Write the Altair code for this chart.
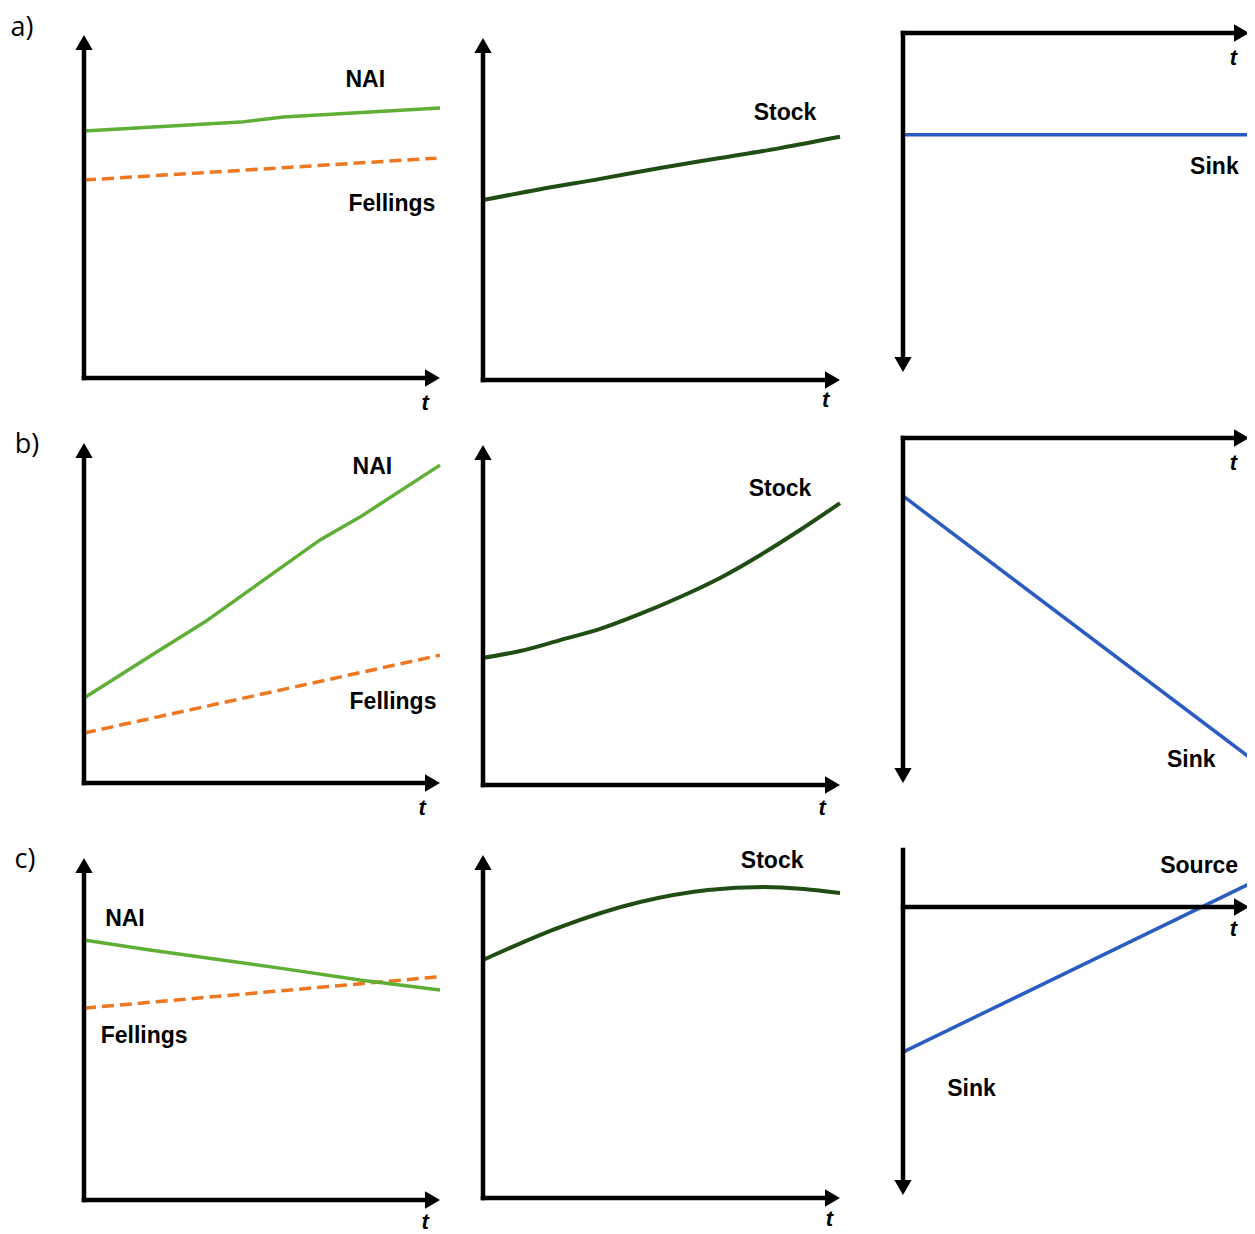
import altair as alt
import pandas as pd

# ---------------- data (t: 0..10 along the time axis, v: value units) ----------------
# row a
a_nai_t = [0, 4.4, 5.6, 10]
a_nai_v = [72.0, 74.6, 76.1, 78.7]
a_fel_t = [0, 9.9]
a_fel_v = [57.7, 64.1]
a_stock_t = [0, 1.6, 3.28, 4.96, 6.64, 8.32, 10]
a_stock_v = [52.6, 55.8, 58.8, 62.0, 64.9, 67.8, 71.1]
a_sink_t = [0, 10]
a_sink_v = [-29.7, -29.7]
# row b
b_nai_t = [0, 2.13, 3.4, 4.66, 6.63, 7.75, 10]
b_nai_v = [25.0, 39.1, 47.4, 56.8, 71.5, 78.2, 93.5]
b_fel_t = [0, 10]
b_fel_v = [14.7, 37.6]
b_stock_t = [0, 1.04, 2.16, 3.28, 4.4, 5.52, 6.64, 7.76, 8.88, 10]
b_stock_v = [37.4, 39.4, 42.6, 45.9, 50.3, 55.3, 60.9, 67.6, 75.0, 82.9]
b_sink_t = [0, 10]
b_sink_v = [-16.9, -93.0]
# row c
c_nai_t = [0, 1.85, 5.5, 7.75, 10]
c_nai_v = [76.0, 73.1, 67.8, 64.3, 61.4]
c_fel_t = [0, 9.9]
c_fel_v = [56.1, 65.2]
c_stock_t = [0, 2.16, 4.4, 6.3, 7.87, 8.99, 10]
c_stock_v = [69.4, 79.0, 86.3, 89.8, 90.7, 90.1, 88.9]
c_sink_t = [0, 10]
c_sink_v = [-42.3, 6.7]

# labels: (text, t, v)
a_left_labels = [("NAI", 7.9, 86.9), ("Fellings", 8.65, 50.7)]
a_mid_labels = [("Stock", 8.46, 78.1)]
a_right_labels = [("Sink", 9.0, -39.1)]
b_left_labels = [("NAI", 8.1, 92.9), ("Fellings", 8.68, 23.8)]
b_mid_labels = [("Stock", 8.32, 87.1)]
b_right_labels = [("Sink", 8.33, -93.9)]
c_left_labels = [("NAI", 1.15, 82.2), ("Fellings", 1.69, 48.0)]
c_mid_labels = [("Stock", 8.1, 98.3)]
c_right_labels = [("Source", 8.56, 12.0), ("Sink", 1.98, -53.1)]

# "t" axis-name positions (t, v)
a_tlab = [(9.58, -7.3), (9.6, -5.8), (9.55, -7.3)]
b_tlab = [(9.5, -7.4), (9.5, -6.8), (9.55, -7.3)]
c_tlab = [(9.58, -6.4), (9.7, -6.1), (9.55, -6.4)]

# row letters (text, t, v) in the left panel's units
row_letters = [("a)", -1.74, 102.0), ("b)", -1.6, 99.4), ("c)", -1.66, 99.4)]

# ---------------- layout (page pixels) ----------------
COLS = [(8, 462), (462, 872), (872, 1247)]
ROWS = [(8, 420), (420, 836), (836, 1226)]
# per panel: origin x, origin y, px per t unit, px per v unit
GEO = {
    ("a", 0): (84, 378, 35.6, 3.43), ("a", 1): (483, 380, 35.7, 3.42), ("a", 2): (903, 33, 34.6, 3.43),
    ("b", 0): (84, 783, 35.6, 3.40), ("b", 1): (483, 785, 35.7, 3.40), ("b", 2): (903, 438, 34.6, 3.43),
    ("c", 0): (84, 1200, 35.6, 3.42), ("c", 1): (483, 1198, 35.7, 3.43), ("c", 2): (903, 907, 34.6, 3.43),
}
# right-panel vertical axis extent (top, bottom) in v units
RIGHT_Y = {"a": (0, -98.8), "b": (0, -100.6), "c": (16.6, -84.0)}

GREEN = "#5fae36"
ORANGE = "#ee7722"
DARK = "#1f4d14"
BLUE = "#2a5cc4"
LABEL_FONT = "Liberation Sans"

STYLE = {
    "nai": dict(color=GREEN, strokeWidth=3.5),
    "fel": dict(color=ORANGE, strokeWidth=3.5, strokeDash=[12, 6]),
    "stock": dict(color=DARK, strokeWidth=4, interpolate="monotone"),
    "sink": dict(color=BLUE, strokeWidth=3.5),
}
HEAD_SIZE = 300
HEAD_OFF = 7.5

row_index = {"a": 0, "b": 1, "c": 2}


def panel(row, col, series, labels, tlab, letter=None):
    (px0, px1), (py0, py1) = COLS[col], ROWS[row_index[row]]
    ox, oy, sx, sy = GEO[(row, col)]
    xs = alt.Scale(domain=[(px0 - ox) / sx, (px1 - ox) / sx], nice=False, zero=False)
    ys = alt.Scale(domain=[(oy - py1) / sy, (oy - py0) / sy], nice=False, zero=False)

    def X(f):
        return alt.X(f, type="quantitative", scale=xs, axis=None)

    def Y(f):
        return alt.Y(f, type="quantitative", scale=ys, axis=None)

    clip = col == 2
    layers = []
    head = 12
    if col < 2:
        axes = pd.DataFrame({"x": [0, 0], "y": [0, 0],
                             "x2": [0, 10 - head / sx], "y2": [100 - head / sy, 0]})
        up = pd.DataFrame({"t": [0], "v": [100]})
    else:
        top, bot = RIGHT_Y[row]
        axes = pd.DataFrame({"x": [0, 0], "y": [top, 0],
                             "x2": [0, 10 - head / sx], "y2": [bot + head / sy, 0]})
        down = pd.DataFrame({"t": [0], "v": [bot]})
    right = pd.DataFrame({"t": [10], "v": [0]})

    for key, ts, vs in series:
        df = pd.DataFrame({"t": ts, "v": vs})
        layers.append(alt.Chart(df).mark_line(clip=clip, **STYLE[key]).encode(x=X("t"), y=Y("v")))

    layers.append(alt.Chart(axes).mark_rule(color="black", strokeWidth=4.5, strokeCap="square", clip=clip)
                  .encode(x=X("x"), y=Y("y"), x2="x2:Q", y2="y2:Q"))
    layers.append(alt.Chart(right).mark_point(shape="triangle-right", filled=True, opacity=1, size=HEAD_SIZE,
                                              color="black", xOffset=-HEAD_OFF, clip=clip)
                  .encode(x=X("t"), y=Y("v")))
    if col < 2:
        layers.append(alt.Chart(up).mark_point(shape="triangle-up", filled=True, opacity=1, size=HEAD_SIZE,
                                               color="black", yOffset=HEAD_OFF)
                      .encode(x=X("t"), y=Y("v")))
    else:
        layers.append(alt.Chart(down).mark_point(shape="triangle-down", filled=True, opacity=1, size=HEAD_SIZE,
                                                 color="black", yOffset=-HEAD_OFF, clip=clip)
                      .encode(x=X("t"), y=Y("v")))

    ldf = pd.DataFrame({"label": [l[0] for l in labels], "t": [l[1] for l in labels],
                        "v": [l[2] for l in labels]})
    layers.append(alt.Chart(ldf).mark_text(font=LABEL_FONT, fontSize=23, fontWeight="bold", color="black",
                                           align="center", baseline="middle")
                  .encode(x=X("t"), y=Y("v"), text="label:N"))
    tdf = pd.DataFrame({"label": ["t"], "t": [tlab[0]], "v": [tlab[1]]})
    layers.append(alt.Chart(tdf).mark_text(font=LABEL_FONT, fontSize=22, fontWeight="bold", fontStyle="italic",
                                           color="black", align="center", baseline="middle")
                  .encode(x=X("t"), y=Y("v"), text="label:N"))
    if letter is not None:
        rdf = pd.DataFrame({"label": [letter[0]], "t": [letter[1]], "v": [letter[2]]})
        layers.append(alt.Chart(rdf).mark_text(font="Open Sans", fontSize=27, color="black",
                                               align="center", baseline="middle")
                      .encode(x=X("t"), y=Y("v"), text="label:N"))

    return alt.layer(*layers).properties(width=px1 - px0, height=py1 - py0)


rows = []
for r, nai_t, nai_v, fel_t, fel_v, st_t, st_v, sk_t, sk_v, ll, ml, rl, tl, letter in [
    ("a", a_nai_t, a_nai_v, a_fel_t, a_fel_v, a_stock_t, a_stock_v, a_sink_t, a_sink_v,
     a_left_labels, a_mid_labels, a_right_labels, a_tlab, row_letters[0]),
    ("b", b_nai_t, b_nai_v, b_fel_t, b_fel_v, b_stock_t, b_stock_v, b_sink_t, b_sink_v,
     b_left_labels, b_mid_labels, b_right_labels, b_tlab, row_letters[1]),
    ("c", c_nai_t, c_nai_v, c_fel_t, c_fel_v, c_stock_t, c_stock_v, c_sink_t, c_sink_v,
     c_left_labels, c_mid_labels, c_right_labels, c_tlab, row_letters[2]),
]:
    p_left = panel(r, 0, [("fel", fel_t, fel_v), ("nai", nai_t, nai_v)], ll, tl[0], letter)
    p_mid = panel(r, 1, [("stock", st_t, st_v)], ml, tl[1])
    p_right = panel(r, 2, [("sink", sk_t, sk_v)], rl, tl[2])
    rows.append(alt.hconcat(p_left, p_mid, p_right, spacing=0))

chart = (
    alt.vconcat(*rows, spacing=0)
    .properties(padding=0, background="white")
    .configure_view(stroke=None)
)

chart.save("out.html", embed_options={"renderer": "svg", "actions": False})
